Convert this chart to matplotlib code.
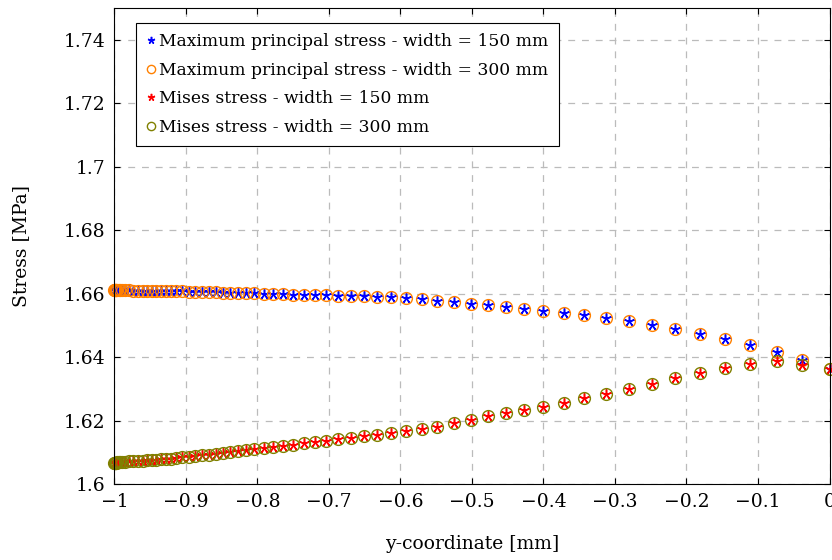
import matplotlib
matplotlib.use("Agg")
import matplotlib.pyplot as plt

plt.rcParams["font.family"] = ["DejaVu Serif"]

# y-coordinate of the sampled nodes (dense towards -1)
y_coord = [
    -1.0000, -0.9999, -0.9996, -0.9992, -0.9985, -0.9975, -0.9961, -0.9943,
    -0.9919, -0.9890, -0.9853, -0.9801, -0.9737, -0.9671, -0.9608, -0.9545,
    -0.9480, -0.9414, -0.9347, -0.9280, -0.9210, -0.9133, -0.9049, -0.8961,
    -0.8870, -0.8776, -0.8681, -0.8583, -0.8483, -0.8379, -0.8273, -0.8164,
    -0.8042, -0.7915, -0.7783, -0.7646, -0.7503, -0.7355, -0.7201, -0.7042,
    -0.6874, -0.6699, -0.6517, -0.6329, -0.6133, -0.5923, -0.5706, -0.5483,
    -0.5252, -0.5017, -0.4776, -0.4524, -0.4266, -0.4000, -0.3720, -0.3427,
    -0.3123, -0.2811, -0.2485, -0.2154, -0.1811, -0.1462, -0.1105, -0.0741,
    -0.0378, 0.0000,
]

max_principal_150 = [
    1.6612, 1.6612, 1.6612, 1.6612, 1.6612, 1.6612, 1.6612, 1.6612,
    1.6611, 1.6611, 1.6611, 1.6611, 1.6610, 1.6610, 1.6610, 1.6609,
    1.6609, 1.6609, 1.6608, 1.6608, 1.6607, 1.6607, 1.6607, 1.6606,
    1.6606, 1.6605, 1.6604, 1.6604, 1.6603, 1.6603, 1.6602, 1.6601,
    1.6601, 1.6600, 1.6599, 1.6598, 1.6597, 1.6597, 1.6596, 1.6595,
    1.6594, 1.6593, 1.6592, 1.6591, 1.6589, 1.6586, 1.6582, 1.6578,
    1.6573, 1.6569, 1.6564, 1.6558, 1.6552, 1.6546, 1.6539, 1.6532,
    1.6523, 1.6513, 1.6502, 1.6489, 1.6474, 1.6457, 1.6437, 1.6415,
    1.6392, 1.6363,
]
# the 300 mm curves lie on top of the 150 mm ones
max_principal_300 = max_principal_150

mises_150 = [
    1.6067, 1.6067, 1.6067, 1.6067, 1.6067, 1.6067, 1.6068, 1.6068,
    1.6068, 1.6069, 1.6070, 1.6071, 1.6072, 1.6073, 1.6074, 1.6075,
    1.6076, 1.6077, 1.6078, 1.6079, 1.6080, 1.6082, 1.6084, 1.6086,
    1.6088, 1.6091, 1.6093, 1.6096, 1.6098, 1.6101, 1.6104, 1.6107,
    1.6110, 1.6113, 1.6117, 1.6120, 1.6124, 1.6128, 1.6132, 1.6136,
    1.6141, 1.6145, 1.6150, 1.6155, 1.6161, 1.6167, 1.6174, 1.6181,
    1.6191, 1.6202, 1.6213, 1.6223, 1.6232, 1.6242, 1.6256, 1.6270,
    1.6285, 1.6301, 1.6316, 1.6333, 1.6349, 1.6365, 1.6378, 1.6388,
    1.6375, 1.6362,
]
mises_300 = mises_150

x_ticks = [-1, -0.9, -0.8, -0.7, -0.6, -0.5, -0.4, -0.3, -0.2, -0.1, 0]
x_tick_labels = ["\u22121", "\u22120.9", "\u22120.8", "\u22120.7", "\u22120.6", "\u22120.5",
                 "\u22120.4", "\u22120.3", "\u22120.2", "\u22120.1", "0"]
y_ticks = [1.6, 1.62, 1.64, 1.66, 1.68, 1.7, 1.72, 1.74]
y_tick_labels = ["1.6", "1.62", "1.64", "1.66", "1.68", "1.7", "1.72", "1.74"]

star = (5, 2, 0)  # five-armed asterisk like the pgfplots star

fig = plt.figure(figsize=(8.32, 5.6), dpi=100)
ax = fig.add_axes([0.1376, 0.1357, 0.8594, 0.8495])

ax.plot(y_coord, max_principal_150, linestyle="none", marker=star, ms=7.5, mew=1.1,
        color="#0000ff", clip_on=False, label="Maximum principal stress - width = 150 mm")
ax.plot(y_coord, max_principal_300, linestyle="none", marker="o", ms=8.5, mew=1.0,
        mfc="none", mec="#ff8000", clip_on=False, label="Maximum principal stress - width = 300 mm")
ax.plot(y_coord, mises_150, linestyle="none", marker=star, ms=7.5, mew=1.1,
        color="#ff0000", clip_on=False, label="Mises stress - width = 150 mm")
ax.plot(y_coord, mises_300, linestyle="none", marker="o", ms=8.5, mew=1.0,
        mfc="none", mec="#808000", clip_on=False, label="Mises stress - width = 300 mm")

ax.set_xlim(-1, 0)
ax.set_ylim(1.6, 1.75)
ax.set_xticks(x_ticks)
ax.set_xticklabels(x_tick_labels)
ax.set_yticks(y_ticks)
ax.set_yticklabels(y_tick_labels)
ax.tick_params(direction="in", length=4, width=0.8, top=True, right=True,
               labelsize=13.5, pad=6.5)

ax.grid(True, color="#bbbbbb", linestyle=(0, (5.5, 5.5)), linewidth=0.9)
ax.set_axisbelow(True)
for s in ax.spines.values():
    s.set_linewidth(0.8)

ax.set_xlabel("y-coordinate [mm]", fontsize=13.5)
ax.set_ylabel("Stress [MPa]", fontsize=13.5)
ax.xaxis.set_label_coords(0.5, -0.107)
ax.yaxis.set_label_coords(-0.118, 0.5)

leg = ax.legend(loc="upper left", bbox_to_anchor=(0.030, 0.970), borderaxespad=0,
                fontsize=12.35, fancybox=False, framealpha=1, edgecolor="black",
                handlelength=0.55, handletextpad=0.2, labelspacing=0.68,
                borderpad=0.6, markerscale=0.7)
leg.get_frame().set_linewidth(0.8)
leg.set_zorder(5)

fig.savefig("out.png", dpi=100)
